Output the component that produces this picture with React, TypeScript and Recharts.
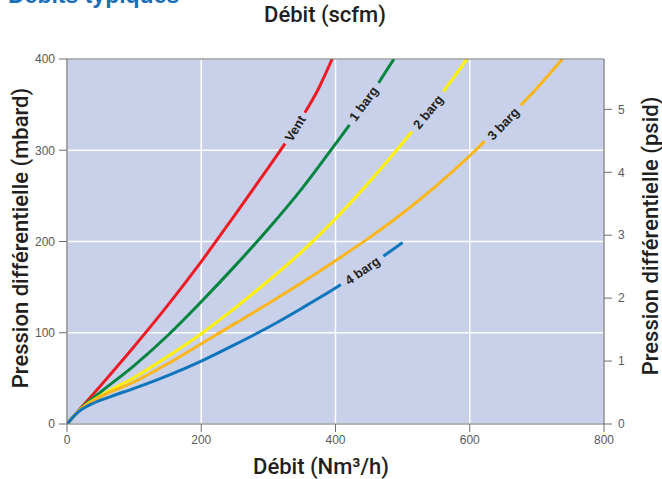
import React from "react";
import { LineChart, Line, XAxis, YAxis, CartesianGrid, ReferenceDot } from "recharts";

// débit en Nm3/h, pression différentielle en mbar
const ventFlow = [0, 25, 50, 100, 150, 200, 250, 300, 330, 350, 375, 395];
const ventDp = [0, 21, 42, 85, 130, 178, 229, 281, 313, 336, 368, 400];

const bar1Flow = [0, 25, 50, 100, 150, 200, 250, 300, 350, 400, 450, 487];
const bar1Dp = [0, 20, 35, 64, 97, 134, 173, 214, 258, 307, 358, 400];

const bar2Flow = [0, 25, 50, 100, 150, 200, 250, 300, 350, 400, 450, 500, 550, 596];
const bar2Dp = [0, 19, 31, 51, 74, 99, 127, 157, 189, 225, 265, 308, 354, 400];

const bar3Flow = [0, 25, 50, 100, 150, 200, 250, 300, 350, 400, 450, 500, 550, 600, 650, 700, 738];
const bar3Dp = [0, 19, 30, 46, 66, 88, 110, 132, 155, 179, 204, 231, 261, 294, 330, 368, 400];

const bar4Flow = [0, 15, 40, 65, 100, 150, 200, 250, 300, 350, 400, 450, 500];
const bar4Dp = [0, 12, 23, 30, 39, 53, 69, 87, 106, 127, 149, 173, 199];

const nm3Ticks = [0, 200, 400, 600, 800];
const mbarTicks = [0, 100, 200, 300, 400];
const scfmTicks = [0, 50, 100, 150, 200, 250, 300, 350, 400, 450];
const psidTicks = [0, 1, 2, 3, 4, 5];

const curveNames = ["Vent", "1 barg", "2 barg", "3 barg", "4 barg"];
const labelFlow = [340, 442, 538, 650, 440];
const labelDp = [324, 351, 342, 329, 168];
const labelAngle = [-58, -54, -51, -46, -35];

const BG = "#c9d1ea";
const AXIS = "#6d6e71";
const tickStyle = { fill: "#58595b", fontSize: 12, fontFamily: "'Liberation Sans Narrow', 'Liberation Sans', Arial" };
const titleFont = "Roboto, 'DejaVu Sans', sans-serif";

const toPoints = (q: number[], p: number[]) => q.map((v, i) => ({ q: v, p: p[i] }));

const series = [
  { name: "Vent", data: toPoints(ventFlow, ventDp), color: "#ed1c24" },
  { name: "1 barg", data: toPoints(bar1Flow, bar1Dp), color: "#008540" },
  { name: "2 barg", data: toPoints(bar2Flow, bar2Dp), color: "#fff200" },
  { name: "3 barg", data: toPoints(bar3Flow, bar3Dp), color: "#fbb619" },
  { name: "4 barg", data: toPoints(bar4Flow, bar4Dp), color: "#0f75bc" },
];

const CurveLabel = (props: any) => {
  const { cx, cy, text, angle } = props;
  const w = text.length * 7.2 + 8;
  return (
    <g transform={`translate(${cx},${cy}) rotate(${angle})`}>
      <rect x={-w / 2} y={-5} width={w} height={10} fill={BG} />
      <text
        x={0}
        y={0}
        textAnchor="middle"
        dominantBaseline="central"
        fontSize={13}
        fontWeight="bold"
        fontFamily="'Liberation Sans Narrow', 'Liberation Sans', Arial"
        fill="#231f20"
      >
        {text}
      </text>
    </g>
  );
};

export default function App() {
  return (
    <div style={{ position: "relative", width: 662, height: 479, background: "#fff" }}>
      <style>{"body{margin:0}"}</style>
      <LineChart width={662} height={479} margin={{ top: 0, right: 0, bottom: 0, left: 0 }}>
        <CartesianGrid fill={BG} stroke="#ffffff" strokeWidth={1.5} />
        <XAxis
          dataKey="q"
          type="number"
          domain={[0, 800]}
          ticks={nm3Ticks}
          height={55}
          tickSize={8}
          tickMargin={3}
          tick={tickStyle}
          axisLine={{ stroke: AXIS, strokeWidth: 1.2 }}
          tickLine={{ stroke: AXIS }}
          allowDataOverflow
        />
        <XAxis
          xAxisId="scfm"
          orientation="top"
          type="number"
          domain={[0, 478]}
          ticks={scfmTicks}
          height={59}
          tickSize={8}
          tickMargin={4}
          tick={tickStyle}
          axisLine={{ stroke: AXIS, strokeWidth: 1.2 }}
          tickLine={{ stroke: AXIS }}
          allowDataOverflow
        />
        <YAxis
          type="number"
          domain={[0, 400]}
          ticks={mbarTicks}
          width={67}
          tickSize={8}
          tickMargin={4}
          tick={tickStyle}
          axisLine={{ stroke: AXIS, strokeWidth: 1.2 }}
          tickLine={{ stroke: AXIS }}
          allowDataOverflow
        />
        <YAxis
          yAxisId="psid"
          orientation="right"
          type="number"
          domain={[0, 5.8]}
          ticks={psidTicks}
          width={58}
          tickSize={8}
          tickMargin={6}
          tick={tickStyle}
          axisLine={{ stroke: AXIS, strokeWidth: 1.2 }}
          tickLine={{ stroke: AXIS }}
          allowDataOverflow
        />
        {series.map((s) => (
          <Line
            key={s.name}
            data={s.data}
            dataKey="p"
            type="monotone"
            stroke={s.color}
            strokeWidth={3}
            dot={false}
            activeDot={false}
            isAnimationActive={false}
          />
        ))}
        {curveNames.map((name, i) => (
          <ReferenceDot
            key={name}
            x={labelFlow[i]}
            y={labelDp[i]}
            r={0}
            shape={(p: any) => <CurveLabel {...p} text={name} angle={labelAngle[i]} />}
          />
        ))}
      </LineChart>
      <svg
        width={662}
        height={479}
        style={{ position: "absolute", left: 0, top: 0, pointerEvents: "none" }}
      >
        <text x={8} y={3} fontSize={23} fontWeight="bold" fontFamily="'Liberation Sans', Arial" fill="#1a6fb9">
          Débits typiques
        </text>
        <text x={325} y={22} textAnchor="middle" fontSize={22} fontWeight={500} fontFamily={titleFont} fill="#231f20">
          Débit (scfm)
        </text>
        <text x={321} y={474} textAnchor="middle" fontSize={22} fontWeight={500} fontFamily={titleFont} fill="#231f20">
          Débit (Nm³/h)
        </text>
        <text
          x={0}
          y={0}
          transform="translate(28,238) rotate(-90)"
          textAnchor="middle"
          fontSize={22}
          fontWeight={500}
          fontFamily={titleFont}
          fill="#231f20"
        >
          Pression différentielle (mbard)
        </text>
        <text
          x={0}
          y={0}
          transform="translate(658,236) rotate(-90)"
          textAnchor="middle"
          fontSize={22}
          fontWeight={500}
          fontFamily={titleFont}
          fill="#231f20"
        >
          Pression différentielle (psid)
        </text>
      </svg>
    </div>
  );
}
